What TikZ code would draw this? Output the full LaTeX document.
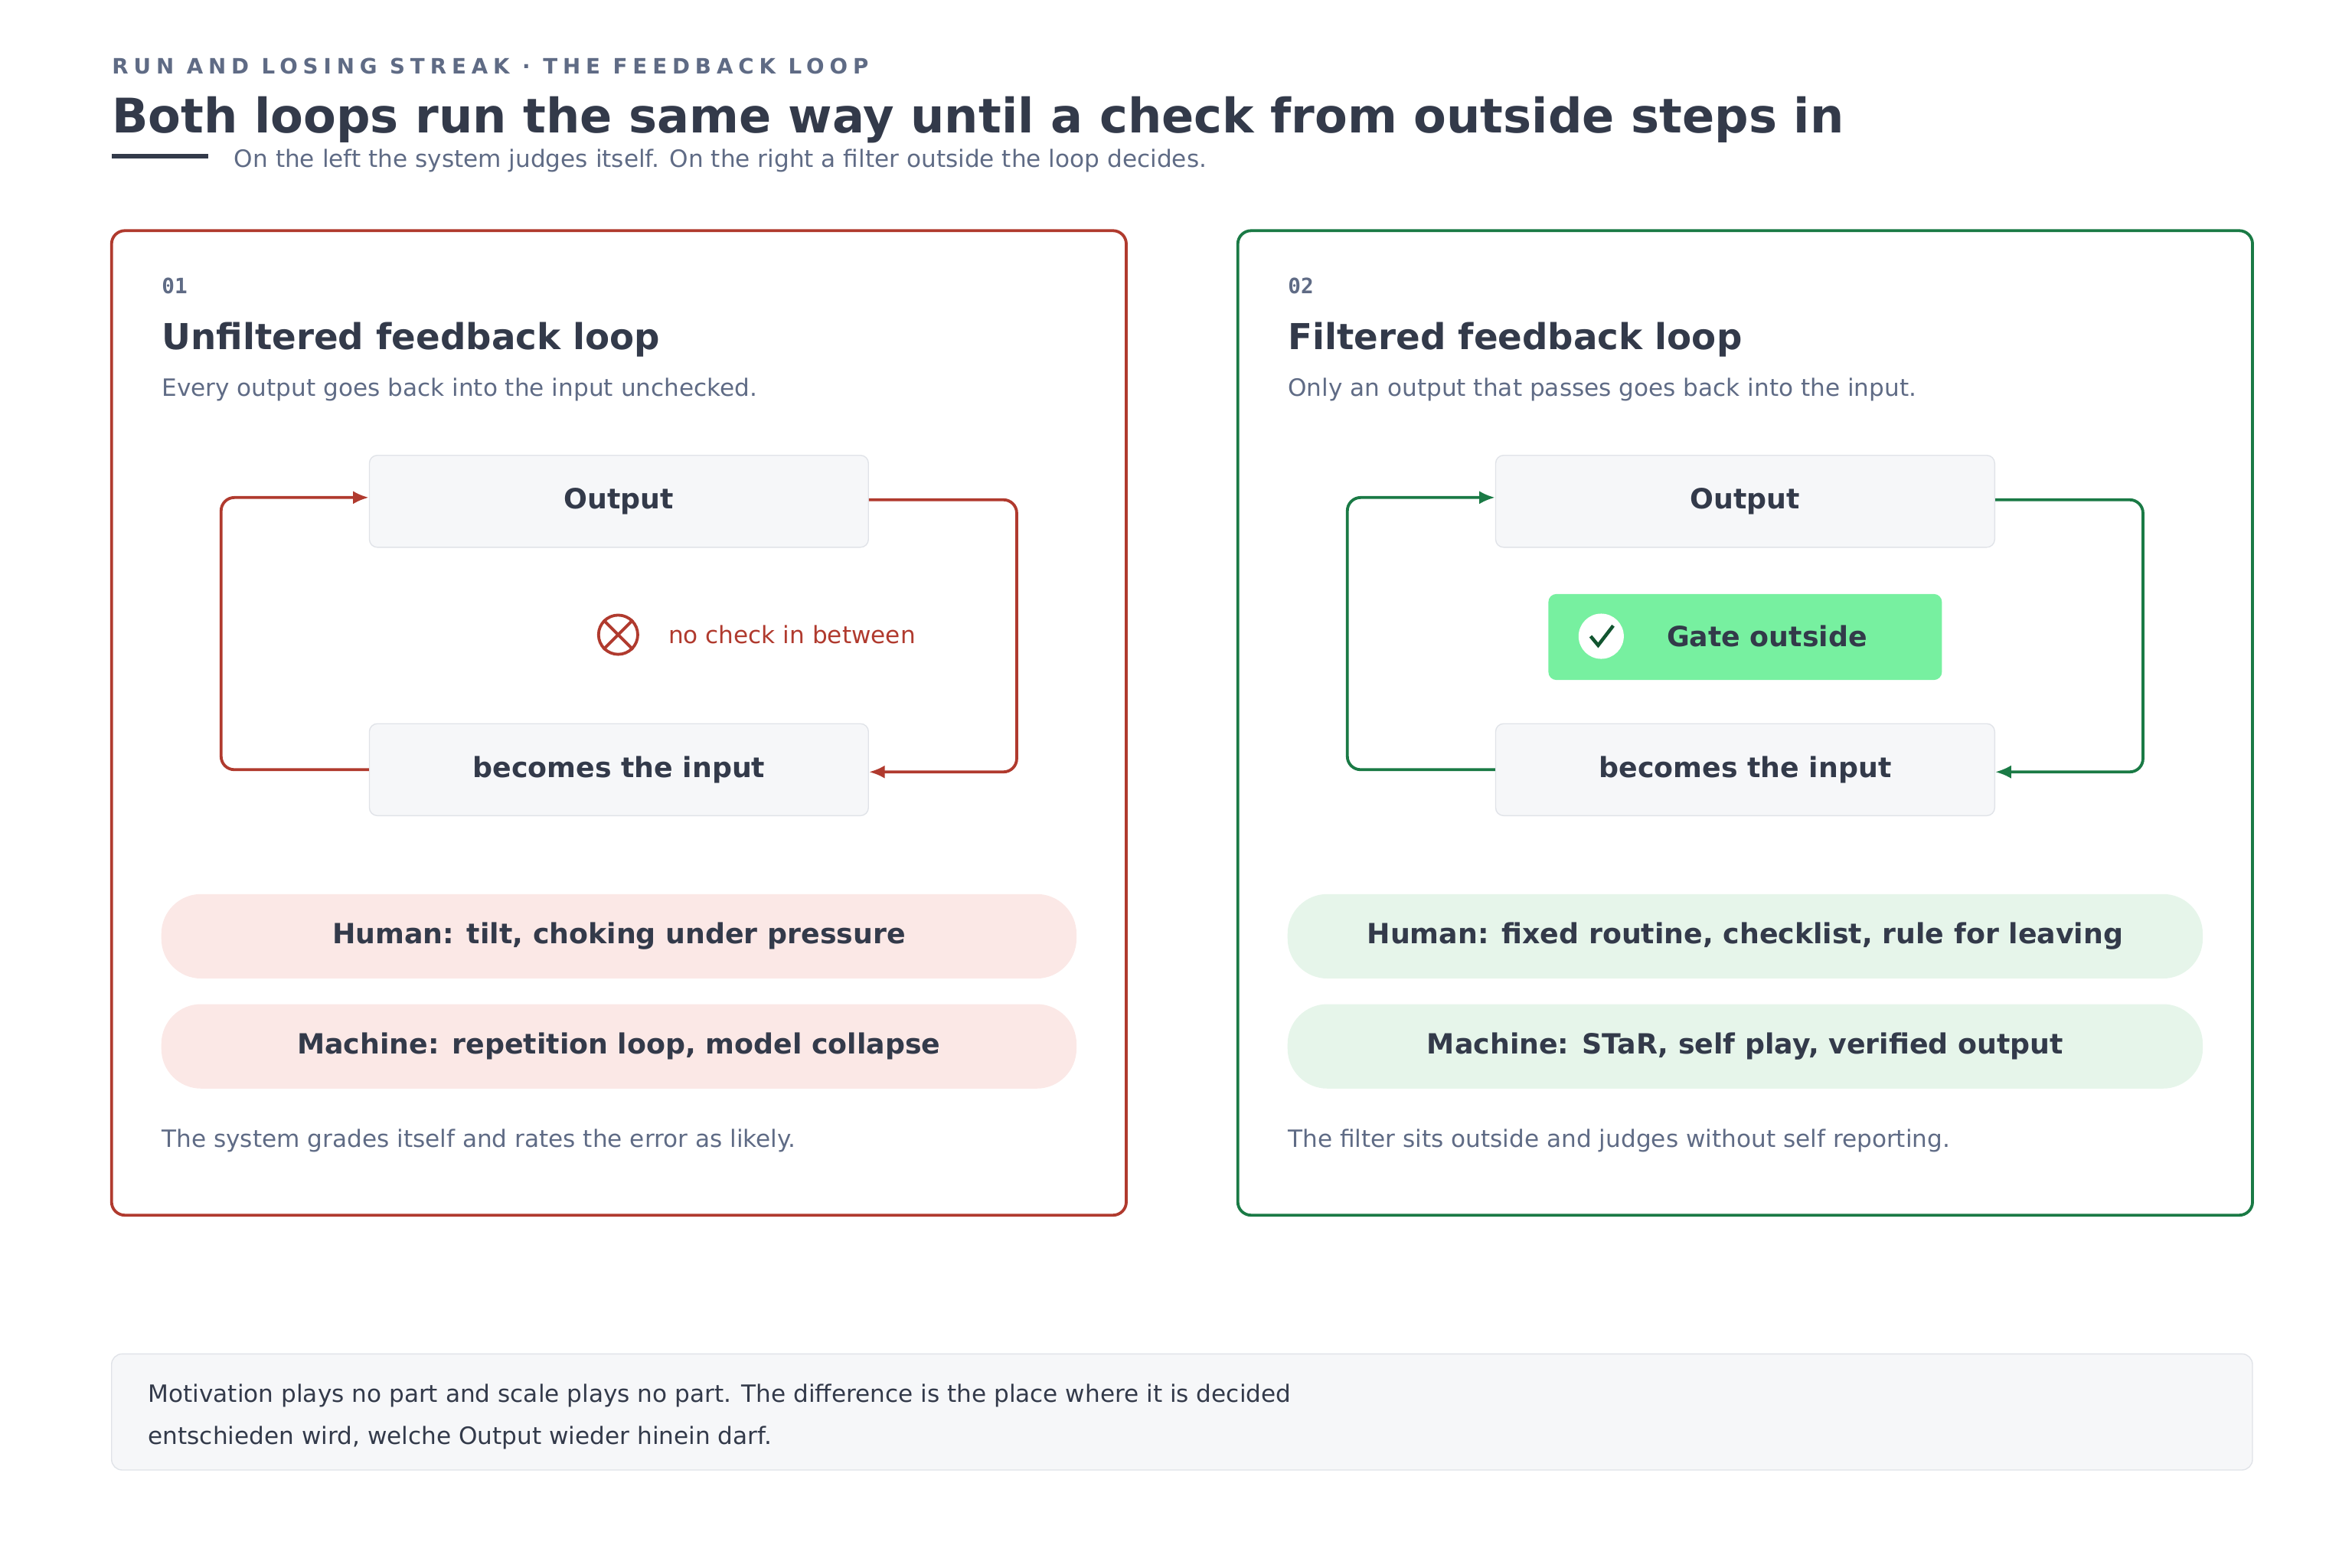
\documentclass[tikz,border=0pt]{standalone}
\usepackage{fontspec}
\setmainfont{DejaVu Sans}
\setmonofont{DejaVu Sans Mono}
\usetikzlibrary{positioning,arrows.meta}
\definecolor{ink}{HTML}{333A4A}
\definecolor{mute}{HTML}{5F6B85}
\definecolor{redline}{HTML}{B03A2E}
\definecolor{greenline}{HTML}{1A7A45}
\definecolor{redpill}{HTML}{FBE8E6}
\definecolor{greenpill}{HTML}{E6F5EA}
\definecolor{boxfill}{HTML}{F6F7F9}
\definecolor{boxline}{HTML}{E0E3E8}
\definecolor{gatefill}{HTML}{77F0A0}
\tikzset{
  txt/.style={anchor=base west,inner sep=0pt,font=\fontsize{9}{11}\selectfont,text=mute},
  stage/.style={draw=boxline,fill=boxfill,rounded corners=3pt,minimum width=331*0.02cm,minimum height=61*0.02cm,font=\fontsize{10.5}{12}\selectfont\bfseries,text=ink},
  pill/.style={fill=#1,rounded corners=15pt,minimum width=607*0.02cm,minimum height=56*0.02cm,font=\fontsize{10.5}{12}\selectfont\bfseries,text=ink},
  card/.style={draw=#1,line width=1.1pt,rounded corners=5pt},
  loop/.style={draw=#1,line width=1.1pt,rounded corners=5pt,-{Latex[length=6pt,width=5pt]}},
}
\begin{document}
\begin{tikzpicture}[x=0.02cm,y=-0.02cm]
\useasboundingbox (0,0) rectangle (1560,1040);
% header
\node[txt,font=\fontsize{8}{10}\selectfont\bfseries\addfontfeature{LetterSpace=25}] (kicker) at (74,49) {RUN AND LOSING STREAK · THE FEEDBACK LOOP};
\node[txt,text=ink,font=\fontsize{18}{22}\selectfont\bfseries] (title) at (74,88) {Both loops run the same way until a check from outside steps in};
\fill[ink] (74,102) rectangle (138,105);
\node[txt] (sub) at (155,111) {On the left the system judges itself. On the right a filter outside the loop decides.};

% card 01
\draw[card=redline] (74,153) rectangle (747,806);
\node[txt,font=\fontsize{8}{10}\selectfont\ttfamily\bfseries] (numa) at (107,195) {01};
\node[txt,text=ink,font=\fontsize{13.5}{16}\selectfont\bfseries] (heada) at (107,232) {Unfiltered feedback loop};
\node[txt] (suba) at (107,263) {Every output goes back into the input unchecked.};
\node[stage] (outa) at (410.5,332.5) {Output};
\node[stage] (ina) at (410.5,510.5) {becomes the input};
\draw[loop=redline] (ina.west) -- ++(-98,0) |- ([yshift=0.05cm]outa.west);
\draw[loop=redline] ([yshift=0.02cm]outa.east) -- ++(98,0) |- ([yshift=-0.03cm]ina.east);
\node[draw=redline,line width=1.1pt,circle,minimum size=26*0.02cm,inner sep=0pt] (xa) at (410,421) {};
\draw[redline,line width=1.1pt] (xa.45) -- (xa.225) (xa.135) -- (xa.315);
\node[txt,text=redline,anchor=west] (nocheck) at (443,421) {no check in between};
\node[pill=redpill] (huma) at (410.5,621) {Human: tilt, choking under pressure};
\node[pill=redpill] (maca) at (410.5,694) {Machine: repetition loop, model collapse};
\node[txt] (foota) at (107,761) {The system grades itself and rates the error as likely.};

% card 02
\draw[card=greenline] (821,153) rectangle (1494,806);
\node[txt,font=\fontsize{8}{10}\selectfont\ttfamily\bfseries] (numb) at (854,195) {02};
\node[txt,text=ink,font=\fontsize{13.5}{16}\selectfont\bfseries] (headb) at (854,232) {Filtered feedback loop};
\node[txt] (subb) at (854,263) {Only an output that passes goes back into the input.};
\node[stage] (outb) at (1157.5,332.5) {Output};
\node[stage] (inb) at (1157.5,510.5) {becomes the input};
\draw[loop=greenline] (inb.west) -- ++(-98,0) |- ([yshift=0.05cm]outb.west);
\draw[loop=greenline] ([yshift=0.02cm]outb.east) -- ++(98,0) |- ([yshift=-0.03cm]inb.east);
\node[fill=gatefill,rounded corners=3pt,minimum width=261*0.02cm,minimum height=57*0.02cm] (gate) at (1157.5,422.5) {};
\node[fill=white,circle,minimum size=30*0.02cm,inner sep=0pt] (tick) at (1062,422) {};
\draw[greenline!70!black,line width=1.3pt] ([shift={(-7,0)}]tick.center) -- ++(5,6) -- ++(10,-13);
\node[text=ink,font=\fontsize{10.5}{12}\selectfont\bfseries] (gatetxt) at (1172,422) {Gate outside};
\node[pill=greenpill] (humb) at (1157.5,621) {Human: fixed routine, checklist, rule for leaving};
\node[pill=greenpill] (macb) at (1157.5,694) {Machine: STaR, self play, verified output};
\node[txt] (footb) at (854,761) {The filter sits outside and judges without self reporting.};

% note
\draw[draw=boxline,fill=boxfill,rounded corners=4pt] (74,898) rectangle (1494,975);
\node[txt,text=ink] (notea) at (98,930) {Motivation plays no part and scale plays no part. The difference is the place where it is decided};
\node[txt,text=ink] (noteb) at (98,958) {entschieden wird, welche Output wieder hinein darf.};
\end{tikzpicture}
\end{document}
